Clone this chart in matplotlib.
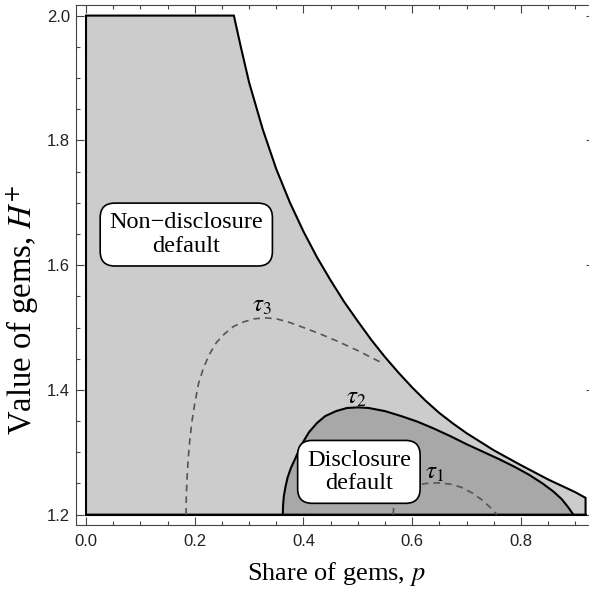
import matplotlib
matplotlib.use("Agg")
import matplotlib.pyplot as plt
from matplotlib.ticker import MultipleLocator

plt.rcParams["mathtext.fontset"] = "stix"
plt.rcParams["font.family"] = "Liberation Sans"

# upper boundary of the shaded region (H+ as a function of p)
outer_p = [0.272, 0.285, 0.300, 0.325, 0.350, 0.375, 0.400, 0.425, 0.450,
           0.475, 0.500, 0.525, 0.550, 0.575, 0.600, 0.625, 0.650, 0.675,
           0.700, 0.750, 0.800, 0.850, 0.900, 0.919]
outer_h = [2.000, 1.949, 1.893, 1.818, 1.754, 1.7005, 1.654, 1.6125, 1.5756,
           1.541, 1.510, 1.480, 1.4527, 1.4275, 1.404, 1.3824, 1.363, 1.3462,
           1.3307, 1.3033, 1.2794, 1.2565, 1.2361, 1.227]

# tau_2 curve = edge of the disclosure-default region
tau2_p = [0.362, 0.3625, 0.364, 0.367, 0.371, 0.377, 0.385, 0.395, 0.410,
          0.425, 0.440, 0.460, 0.480, 0.500, 0.520, 0.550, 0.580, 0.610,
          0.640, 0.670, 0.700, 0.730, 0.760, 0.790, 0.815, 0.840, 0.860,
          0.875, 0.887, 0.8966]
tau2_h = [1.200, 1.215, 1.230, 1.245, 1.260, 1.275, 1.290, 1.310, 1.332,
          1.347, 1.358, 1.366, 1.371, 1.372, 1.371, 1.366, 1.358, 1.349,
          1.338, 1.326, 1.313, 1.301, 1.289, 1.276, 1.264, 1.250, 1.237,
          1.225, 1.212, 1.200]

# dashed threshold curves
tau3_p = [0.184, 0.1845, 0.186, 0.188, 0.191, 0.195, 0.200, 0.207, 0.216,
          0.227, 0.240, 0.255, 0.272, 0.290, 0.310, 0.330, 0.350, 0.375,
          0.400, 0.430, 0.460, 0.500, 0.545]
tau3_h = [1.200, 1.230, 1.260, 1.290, 1.320, 1.350, 1.378, 1.410, 1.435,
          1.457, 1.476, 1.490, 1.502, 1.509, 1.514, 1.5155, 1.514, 1.508,
          1.500, 1.490, 1.479, 1.463, 1.443]

tau1_p = [0.565, 0.566, 0.569, 0.574, 0.582, 0.594, 0.610, 0.630, 0.650,
          0.670, 0.690, 0.710, 0.728, 0.742, 0.751, 0.7557]
tau1_h = [1.200, 1.210, 1.220, 1.229, 1.237, 1.243, 1.248, 1.2505, 1.251,
          1.249, 1.244, 1.235, 1.224, 1.213, 1.205, 1.200]

p_min, h_min, h_max = 0.0, 1.2, 2.0

serif = "Liberation Serif"
light = "#cccccc"
dark = "#a8a8a8"

fig = plt.figure(figsize=(5.89, 5.92), dpi=100)
ax = fig.add_axes([0.1285, 0.1127, 0.8795, 0.8789])

ax.fill([p_min, p_min] + outer_p + [outer_p[-1]],
        [h_min, h_max] + outer_h + [h_min],
        facecolor=light, edgecolor="black", linewidth=1.5, zorder=1)
ax.fill(tau2_p, tau2_h,
        facecolor=dark, edgecolor="black", linewidth=1.5, zorder=2)
ax.plot([p_min, outer_p[-1]], [h_min, h_min], color="black",
        linewidth=1.5, zorder=3)

ax.plot(tau3_p, tau3_h, color="#555555", linewidth=1.2,
        linestyle=(0, (4, 3)), zorder=3)
ax.plot(tau1_p, tau1_h, color="#555555", linewidth=1.2,
        linestyle=(0, (4, 3)), zorder=3)

ax.text(0.323, 1.536, r"$\tau_3$", fontsize=18, ha="center", va="center")
ax.text(0.498, 1.389, r"$\tau_2$", fontsize=18, ha="center", va="center")
ax.text(0.642, 1.269, r"$\tau_1$", fontsize=18, ha="center", va="center")

box = dict(boxstyle="round,pad=0.38,rounding_size=0.6",
           facecolor="white", edgecolor="black", linewidth=1.2)
ax.text(0.1845, 1.649, "Non\u2212disclosure\ndefault", family=serif,
        fontsize=17.5, ha="center", va="center", linespacing=1.15,
        bbox=box, zorder=5)
ax.text(0.502, 1.2686, "Disclosure\ndefault", family=serif,
        fontsize=17.5, ha="center", va="center", linespacing=1.15,
        bbox=box, zorder=5)

ax.set_xlim(-0.019, 0.934)
ax.set_ylim(1.183, 2.017)

ax.xaxis.set_major_locator(MultipleLocator(0.2))
ax.xaxis.set_minor_locator(MultipleLocator(0.05))
ax.yaxis.set_major_locator(MultipleLocator(0.2))
ax.yaxis.set_minor_locator(MultipleLocator(0.05))
ax.xaxis.set_major_formatter(lambda v, pos: f"{v:.1f}")
ax.yaxis.set_major_formatter(lambda v, pos: f"{v:.1f}")

ax.tick_params(which="both", direction="in", top=True, right=True,
               color="#444444", width=0.8, labelsize=12,
               labelcolor="#222222")
ax.tick_params(which="major", length=5.5)
ax.tick_params(which="minor", length=3)
ax.tick_params(axis="x", pad=6)
ax.tick_params(axis="y", pad=4)
for sp in ax.spines.values():
    sp.set_color("#444444")
    sp.set_linewidth(0.8)

fig.text(336 / 589, 1 - 574 / 592, "Share of gems, $p$", family=serif,
         fontsize=19, ha="center", va="center")
fig.text(22 / 589, 1 - 310 / 592, "Value of gems, $H^{+}$", family=serif,
         fontsize=23.5, ha="center", va="center", rotation=90)

fig.savefig("out.png", dpi=100)
